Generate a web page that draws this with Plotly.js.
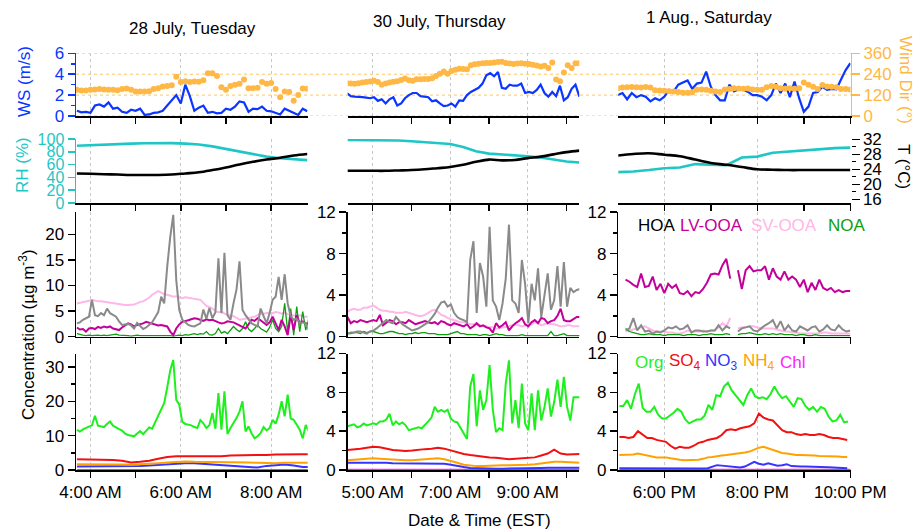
<!DOCTYPE html>
<html>
<head>
<meta charset="utf-8">
<script src="https://cdn.plot.ly/plotly-3.0.1.min.js"></script>
<style>html,body{margin:0;padding:0;background:#fff}#chart{width:914px;height:529px}</style>
</head>
<body>
<div id="chart"></div>
<script>
// ---- 28 July (Tuesday) ----
const c1Ws = [0.5,0.35,0.4,0.3,1.0,1.1,0.9,1.3,0.7,0.8,0.4,0.3,0.6,0.5,0.7,0.1,0.15,0.3,0.35,0.5,1.0,1.5,2.0,1.2,3.0,1.9,0.5,0.8,1.0,0.3,0.4,0.25,0.3,0.7,0.6,0.9,1.4,1.3,0.4,0.7,0.65,0.9,0.5,0.45,0.3,0.15,0.7,0.5,0.35,0.1,0.7,0.45];
const c1Wd = [150,147,147,150,152,155,152,150,150,148,155,158,150,140,140,140,142,155,160,170,172,176,225,195,200,195,198,196,205,245,245,230,165,150,172,180,185,210,160,160,162,195,185,190,155,107,140,138,88,120,158,157];
const c1Rh = [89.5,90.5,91.5,92.3,92.8,93.3,93.8,93.5,92.8,91.5,88.5,84.5,80.0,76.0,72.5,70.0,68.3,67.0];
const c1T = [22.9,22.8,22.7,22.6,22.5,22.5,22.5,22.6,22.9,23.2,23.8,24.5,25.3,26.0,26.6,27.1,27.7,28.1];
const c1Hoa = [2.6,2.8,3.3,3.6,3.9,7.2,4.2,4.0,4.6,4.2,5.5,4.6,4.3,3.9,3.0,2.3,2.4,2.5,2.2,1.6,2.7,2.0,1.5,1.8,2.4,2.8,3.8,4.8,7.8,6.5,13.7,19.5,23.8,11.0,5.2,3.3,2.8,2.3,2.1,2.0,2.3,2.6,5.3,3.5,5.6,3.6,4.8,15.3,4.6,16.4,4.2,3.3,6.5,9.2,14.7,5.2,4.2,3.4,2.6,2.3,2.0,5.5,3.9,2.6,4.6,7.2,7.8,11.7,7.2,12.2,6.5,4.0,3.3,3.5,2.6,2.8,2.6,1.3];
const c1Lv = [1.8,1.4,1.5,1.0,1.6,1.7,1.5,1.9,1.7,2.0,1.8,2.0,1.6,1.4,1.3,1.8,2.2,2.6,2.4,2.0,2.3,2.4,2.6,2.9,2.7,2.5,2.4,2.2,2.3,2.1,2.0,1.0,0.3,1.6,2.4,2.9,3.0,3.2,3.4,3.6,3.5,3.3,3.1,3.4,3.2,3.3,3.0,2.8,2.6,2.7,3.0,2.9,2.8,2.5,2.2,1.8,1.6,2.4,3.3,3.1,3.6,3.2,2.7,2.3,2.8,3.9,2.6,1.3,3.3,2.0,0.3,4.2,1.3,4.2,2.6,3.0,2.6,2.6];
const c1Sv = [6.5,6.6,6.8,6.9,7.0,7.2,7.0,6.9,6.9,6.8,6.8,6.7,6.6,6.5,6.4,6.3,6.2,6.2,6.2,6.3,6.5,6.8,6.9,7.2,7.6,8.2,8.6,8.9,8.6,8.3,8.2,8.0,7.8,7.9,7.7,7.5,7.7,7.6,7.5,7.4,7.3,7.2,6.6,6.0,5.8,5.5,5.0,4.8,4.9,4.5,4.3,4.2,4.0,3.7,3.3,3.4,3.5,3.6,3.7,3.9,4.2,4.5,4.5,4.6,4.7,4.6,4.8,4.7,4.5,4.7,4.4,4.3,4.2,4.0,4.2,4.0,3.9,3.9];
const c1Noa = [0.6,0.4,0.3,0.2,0.3,0.2,0.3,0.3,0.2,0.3,0.2,0.3,0.4,0.5,0.3,0.3,0.2,0.2,0.1,0.2,0.3,0.2,0.2,0.3,0.2,0.3,0.2,0.3,0.2,0.3,0.2,0.2,0.1,0.2,0.3,0.2,0.4,0.3,0.5,0.6,0.4,0.6,0.5,1.0,0.4,0.3,0.6,1.6,0.7,1.0,0.6,1.2,2.0,1.4,1.0,1.6,2.9,1.5,1.0,1.6,2.3,1.6,1.3,0.9,1.8,3.3,1.6,1.0,2.0,6.5,1.0,5.5,0.3,5.9,1.0,4.9,1.3,3.6];
const c1Org = [11.7,11.2,11.8,12.3,12.6,13.0,15.8,12.9,12.6,12.5,13.4,14.1,12.9,12.3,11.9,11.5,10.6,10.2,10.0,9.8,10.6,11.3,10.4,11.5,12.4,12.0,14.0,15.6,17.5,19.5,24.0,29.0,32.0,20.4,19.0,14.0,13.4,13.3,13.0,12.5,12.2,14.5,13.6,12.2,13.0,16.6,12.0,22.4,11.7,22.9,10.5,12.2,13.5,15.1,17.0,20.0,11.2,12.7,10.7,9.2,9.8,10.7,12.5,11.5,12.2,14.6,13.5,16.1,20.0,15.6,21.9,15.0,14.6,13.0,11.7,9.2,13.1,11.2];
const c1So4 = [3.1,3.1,3.1,3.0,2.9,2.7,2.2,2.4,2.7,3.3,3.8,4.0,4.0,4.0,3.9,3.8,4.0,4.2,4.2,4.3,4.4,4.4,4.5,4.6,4.7,4.6,4.6];
const c1Nh4 = [1.7,1.7,1.8,1.8,1.7,1.6,1.5,1.6,1.8,2.0,2.2,2.4,2.5,2.4,2.4,2.3,2.3,2.2,2.2,2.2,2.1,2.0,2.0,2.1,2.2,2.1,2.1];
const c1No3 = [1.0,1.0,1.0,1.0,1.1,1.0,1.1,1.2,1.3,1.5,1.7,1.9,2.0,2.0,1.8,1.7,1.6,1.4,1.1,1.0,0.7,1.2,1.5,1.6,1.3,0.9,0.9];
const c1Chl = [0.1,0.1,0.1,0.1,0.1,0.12,0.1,0.1,0.1,0.1,0.1,0.1];

// ---- 30 July (Thursday) ----
const c2Ws = [2.2,1.9,1.85,1.85,1.8,1.75,1.7,1.8,1.45,1.6,1.2,1.6,1.8,1.0,1.2,1.7,2.0,2.2,2.2,1.9,1.85,1.8,1.4,1.5,1.2,0.95,1.0,1.2,0.9,1.5,1.45,2.0,2.3,2.5,2.7,3.1,3.9,4.1,3.8,4.2,2.7,2.6,3.0,2.9,2.9,3.1,2.2,2.3,2.2,2.5,3.0,2.2,1.85,2.3,1.9,2.9,1.5,1.8,2.6,3.0,1.85];
const c2Wd = [188,186,185,188,192,195,198,203,195,180,186,192,197,200,207,215,205,203,211,211,212,213,217,230,242,255,242,258,265,272,270,268,292,297,300,303,304,305,307,310,312,305,302,299,301,303,300,299,294,290,284,288,276,307,210,200,250,292,275,303,303];
const c2Rh = [98.4,98.4,98.4,98.3,97.6,96.4,95.3,93.8,92.2,87.5,80.8,77.2,76.0,74.4,73.0,71.2,68.0,64.9,63.2];
const c2T = [23.6,23.6,23.6,23.6,23.7,23.8,24.0,24.3,24.6,25.2,26.0,26.6,26.4,26.5,27.0,27.4,28.0,28.6,29.0];
const c2Hoa = [0.3,0.4,0.4,0.5,0.5,0.4,0.3,0.5,0.6,0.8,1.1,1.4,1.6,1.4,1.3,1.9,1.5,1.2,1.0,0.8,0.6,0.7,0.8,1.0,1.2,1.4,1.8,2.2,2.8,3.3,3.4,2.9,3.1,2.3,1.9,1.7,1.6,1.4,7.4,9.2,2.3,7.1,5.8,2.9,10.6,3.5,2.9,1.6,3.2,5.6,10.8,3.5,3.2,2.3,7.4,5.1,1.3,5.1,3.5,6.6,1.9,4.2,6.1,2.6,3.5,6.8,2.9,7.2,2.9,4.7,4.3,4.5,4.6];
const c2Lv = [1.9,1.3,1.5,1.4,1.6,1.5,1.4,1.5,1.6,1.5,2.1,1.1,1.4,1.6,1.5,1.2,1.4,1.4,1.3,1.6,1.4,1.2,1.3,1.4,1.5,1.4,1.3,1.4,1.2,1.5,1.4,1.2,1.1,1.3,1.2,1.1,1.0,1.2,0.8,1.0,1.3,1.0,1.1,0.9,0.8,0.4,1.3,0.9,1.1,1.4,0.6,1.0,1.3,1.5,1.8,1.2,1.0,1.4,1.6,1.3,1.8,1.7,1.3,1.5,1.6,2.0,2.7,1.6,1.5,1.5,1.7,1.9,1.9];
const c2Sv = [2.4,2.6,2.7,2.6,2.6,2.8,2.8,2.9,3.0,2.8,2.6,2.5,2.5,2.4,2.4,2.3,2.3,2.3,2.4,2.3,2.2,2.1,2.0,2.0,2.1,2.3,2.5,2.6,2.4,2.1,2.0,1.8,1.7,1.6,1.5,1.4,1.4,1.3,1.2,1.2,1.1,1.1,1.0,1.0,0.9,0.9,0.8,0.8,0.9,0.9,1.0,1.1,1.2,1.1,1.0,1.1,1.2,1.2,1.4,1.3,1.1,1.2,1.3,1.2,1.2,1.1,1.0,1.0,1.1,1.1,1.0,1.0,1.0];
const c2Noa = [0.3,0.3,0.4,0.4,0.3,0.5,0.4,0.5,0.5,0.4,0.3,0.3,0.4,0.5,0.5,0.4,0.3,0.3,0.2,0.3,0.3,0.4,0.3,0.4,0.4,0.3,0.3,0.3,0.2,0.2,0.2,0.2,0.3,0.4,0.5,0.3,0.3,0.2,0.2,0.2,0.2,0.1,0.2,0.2,0.1,0.2,0.3,0.2,0.2,0.1,0.1,0.1,0.1,0.1,0.2,0.1,0.1,0.1,0.1,0.1,0.1,0.1,0.1,0.5,0.1,0.1,0.2,0.3,0.1,0.1,0.1,0.1,0.1];
const c2Org = [4.5,4.6,4.7,4.4,4.5,4.8,4.6,4.7,4.8,4.7,5.0,5.0,5.2,5.8,4.6,5.0,4.7,4.9,4.6,4.1,4.2,4.3,4.4,4.3,4.6,5.0,5.4,6.5,6.0,6.2,6.0,6.2,5.3,5.0,4.9,4.3,3.8,3.2,8.6,9.9,4.5,8.2,6.2,7.2,10.8,6.2,3.9,4.3,4.1,8.9,11.3,4.8,7.2,4.3,8.9,4.8,4.1,7.9,4.1,8.2,5.1,6.5,8.4,5.5,7.0,9.3,6.5,9.6,6.5,5.1,7.5,7.5,7.5];
const c2So4 = [2.05,2.1,2.2,2.3,2.4,2.35,2.2,2.05,2.0,1.95,2.0,2.1,2.15,2.2,2.3,2.2,2.0,1.8,1.65,1.55,1.45,1.4,1.3,1.25,1.15,1.1,1.15,1.2,1.2,1.3,1.5,1.7,2.1,1.7,1.6,1.65,1.65];
const c2Nh4 = [1.0,1.05,1.1,1.15,1.2,1.15,1.1,1.1,1.05,1.0,1.0,1.05,1.1,1.15,1.2,1.1,0.95,0.75,0.55,0.45,0.4,0.4,0.45,0.45,0.5,0.5,0.5,0.5,0.55,0.6,0.7,0.8,0.85,0.85,0.8,0.75,0.75];
const c2No3 = [0.75,0.75,0.8,0.8,0.75,0.75,0.75,0.7,0.7,0.7,0.7,0.7,0.7,0.72,0.72,0.65,0.55,0.4,0.3,0.2,0.17,0.15,0.15,0.14,0.14,0.14,0.15,0.15,0.16,0.17,0.2,0.22,0.24,0.24,0.24,0.22,0.22];
const c2Chl = [0.05,0.05,0.06,0.05,0.05,0.05,0.04,0.05,0.05,0.05,0.05,0.05,0.05];

// ---- 1 Aug. (Saturday) ----
const c3Ws = [2.0,2.2,1.6,2.2,1.8,2.0,1.85,1.4,1.7,1.5,1.85,2.5,2.35,3.0,3.2,3.4,2.6,3.1,3.2,4.25,2.8,2.0,1.5,1.5,3.0,2.35,2.55,2.5,2.3,2.0,2.0,1.85,1.5,2.0,3.1,2.2,3.1,1.8,3.3,1.7,0.4,0.9,2.2,2.3,2.8,2.5,2.6,2.55,3.5,4.4,5.05];
const c3Wd = [160,163,165,166,165,164,166,163,148,146,145,142,140,138,134,134,136,150,152,150,145,140,138,152,155,160,158,156,158,152,150,150,165,172,168,160,158,160,157,160,192,180,168,155,178,170,168,165,155,155,152];
const c3Rh = [48.2,49.2,51.5,54.4,55.5,60.8,60.0,59.0,71.0,72.5,78.5,80.2,82.0,84.5,85.8,86.5];
const c3T = [27.7,28.1,28.3,27.9,27.5,26.6,25.7,25.2,24.6,24.0,23.9,23.8,23.8,23.8,23.8,23.8];
const c3Hoa = [0.6,0.8,1.8,0.6,1.1,0.5,0.6,0.3,0.5,0.4,0.6,0.9,0.8,1.0,0.7,0.8,1.1,0.4,0.6,0.6,0.5,0.5,0.6,0.6,1.1,0.6,1.0,0.8,null,0.5,0.8,0.9,1.0,0.6,0.5,0.8,1.1,1.3,1.6,0.8,1.5,0.6,1.1,0.6,0.5,1.0,0.8,0.6,0.9,1.0,0.5,0.7,1.1,0.7,0.6,1.1,0.7,0.5,0.6];
const c3Lv = [5.5,5.3,5.0,4.8,6.1,4.8,4.9,5.8,4.5,5.1,4.2,5.1,4.7,5.0,4.2,4.1,4.4,3.9,4.3,4.2,4.6,5.2,6.0,6.1,6.0,6.9,7.5,5.6,null,6.4,4.6,6.4,6.8,6.3,6.4,6.4,6.8,5.5,6.6,5.8,5.5,6.3,5.5,5.8,5.5,4.8,5.5,4.3,5.2,4.5,5.5,4.7,4.5,4.7,4.3,4.5,4.3,4.4,4.4];
const c3Sv = [0.5,0.6,0.7,0.8,0.9,1.0,0.8,0.6,0.5,0.5,0.5,0.4,0.4,0.3,0.3,0.4,0.6,0.5,0.5,0.5,0.6,0.5,0.6,0.6,0.9,1.3,1.0,1.8,null,0.8,0.9,0.9,1.0,1.0,0.9,0.8,0.8,0.8,0.8,0.7,0.6,0.5,0.5,0.4,0.4,0.3,0.3,0.3,0.3,0.3,0.3,0.4,0.4,0.3,0.3,0.3,0.3,0.3,0.3];
const c3Noa = [0.8,0.5,0.4,0.3,0.2,0.2,0.3,0.2,0.2,0.2,0.1,0.2,0.2,0.2,0.2,0.1,0.2,0.2,0.2,0.1,0.2,0.2,0.3,0.2,0.2,0.2,0.3,0.2,null,0.2,0.3,0.3,0.4,0.3,0.2,0.2,0.3,0.2,0.3,0.2,0.3,0.2,0.2,0.2,0.1,0.2,0.2,0.1,0.1,0.2,0.1,0.1,0.1,0.1,0.1,0.1,0.1,0.1,0.1];
const c3Org = [6.6,6.6,7.2,6.3,7.8,8.9,6.4,6.0,6.0,6.5,5.7,5.3,5.3,5.6,5.9,6.3,6.0,5.2,4.8,5.0,5.2,5.2,5.6,6.7,6.2,7.7,7.6,8.6,9.0,8.2,7.7,7.3,6.7,7.7,8.4,7.6,7.4,7.5,7.3,7.8,8.6,7.9,7.4,7.6,7.0,6.5,7.4,7.3,6.6,6.2,6.5,6.0,6.5,6.3,5.5,5.0,5.1,5.7,4.9,5.0];
const c3So4 = [3.4,3.4,3.3,3.4,4.0,3.6,3.3,3.3,3.1,3.0,2.9,2.5,2.2,2.4,2.3,2.3,2.5,2.8,2.9,3.1,3.2,3.3,3.6,4.1,4.2,4.1,4.3,4.4,4.5,4.8,5.8,5.4,5.2,5.1,4.6,4.1,3.9,3.9,3.7,3.6,3.7,3.6,3.6,3.7,3.6,3.4,3.3,3.3,3.2,3.1];
const c3Nh4 = [1.55,1.55,1.6,1.6,1.7,1.6,1.45,1.35,1.3,1.3,1.3,1.2,1.1,1.05,1.0,1.0,1.0,1.05,1.15,1.3,1.35,1.45,1.5,1.55,1.6,1.65,1.7,1.8,1.9,2.1,2.3,2.4,2.25,2.1,1.9,1.75,1.7,1.6,1.55,1.55,1.55,1.55,1.5,1.45,1.45,1.45,1.45,1.4,1.35,1.35];
const c3No3 = [0.17,0.17,0.16,0.15,0.15,0.15,0.14,0.13,0.12,0.12,0.12,0.11,0.1,0.1,0.1,0.1,0.12,0.14,0.16,0.18,0.35,0.5,0.45,0.4,0.35,0.3,0.25,0.35,0.6,0.85,0.65,0.55,0.7,0.6,0.45,0.5,0.6,0.4,0.35,0.35,0.35,0.35,0.35,0.3,0.3,0.28,0.27,0.25,0.2,0.17];
const c3Chl = [0.05,0.06,0.05,0.05,0.04,0.05,0.06,0.05,0.05,0.05,0.05];

// Sampling schedule for each record: [date, start HH, start MM, step in minutes]
const sched = {
  c1: {met: ['2015-07-28',3,42,6], thermo: ['2015-07-28',3,42,18], pmf: ['2015-07-28',3,42,4], org: ['2015-07-28',3,42,4], inorg: ['2015-07-28',3,42,12], chl: ['2015-07-28',3,42,30]},
  c2: {met: ['2015-07-30',4,20,6], thermo: ['2015-07-30',4,20,20], pmf: ['2015-07-30',4,21,5], org: ['2015-07-30',4,21,5], inorg: ['2015-07-30',4,21,10], chl: ['2015-07-30',4,21,30]},
  c3: {met: ['2015-08-01',17,0,6], thermo: ['2015-08-01',17,0,20], pmf: ['2015-08-01',17,10,5], org: ['2015-08-01',17,2,5], inorg: ['2015-08-01',17,2,6], chl: ['2015-08-01',17,2,30]}
};

function times(s, n) {
  const [day, hh, mm, step] = s;
  const t0 = Date.parse(day + 'T' + String(hh).padStart(2,'0') + ':' + String(mm).padStart(2,'0') + ':00Z');
  return Array.from({length: n}, (_, k) => t0 + k * step * 60000);
}

const columns = [
  {s: sched.c1, ws: c1Ws, wd: c1Wd, rh: c1Rh, t: c1T, hoa: c1Hoa, lv: c1Lv, sv: c1Sv, noa: c1Noa, org: c1Org, so4: c1So4, nh4: c1Nh4, no3: c1No3, chl: c1Chl},
  {s: sched.c2, ws: c2Ws, wd: c2Wd, rh: c2Rh, t: c2T, hoa: c2Hoa, lv: c2Lv, sv: c2Sv, noa: c2Noa, org: c2Org, so4: c2So4, nh4: c2Nh4, no3: c2No3, chl: c2Chl},
  {s: sched.c3, ws: c3Ws, wd: c3Wd, rh: c3Rh, t: c3T, hoa: c3Hoa, lv: c3Lv, sv: c3Sv, noa: c3Noa, org: c3Org, so4: c3So4, nh4: c3Nh4, no3: c3No3, chl: c3Chl}
];

const COL = {
  ws: '#0a36ff', wd: '#ffb845', rh: '#1fc6c6', t: '#000000',
  hoa: '#8a8a8a', lv: '#c4009a', sv: '#ffb6e8', noa: '#0e9e0e',
  org: '#1ef01e', so4: '#f21010', no3: '#3535ff', nh4: '#ffa200', chl: '#ff22ff'
};
const FONT = 'Liberation Sans, Arial, sans-serif';

// page geometry (pixels)
const W = 914, H = 529;
const px = x => x / W;
const py = y => 1 - y / H;
const colX = [[76, 307.7], [347.7, 579.3], [618.3, 850.5]];
const rowY = [[53.3, 116], [139, 203], [211.7, 336.7], [353.5, 470]];

const xRanges = [
  {range: ['2015-07-28 03:40:48', '2015-07-28 08:48:36'], tick0: '2015-07-28 04:00'},
  {range: ['2015-07-30 04:21:18', '2015-07-30 10:19:54'], tick0: '2015-07-30 05:00'},
  {range: ['2015-08-01 17:00:36', '2015-08-01 22:00:15'], tick0: '2015-08-01 18:00'}
];

const yCfg = [
  [{range:[0,6], dtick:2, minor:1, color:COL.ws, fs:17}, {range:[0,6], hidden:true}, {range:[0,6], hidden:true}],
  [{range:[0,100], dtick:20, color:COL.rh, fs:16}, {range:[0,100], hidden:true}, {range:[0,100], hidden:true}],
  [{range:[0,24.41], dtick:5}, {range:[0,12.05], dtick:4, minor:2}, {range:[0,12.05], dtick:4, minor:2}],
  [{range:[0,33.9], dtick:10, minor:5}, {range:[0,12], dtick:4, minor:2}, {range:[0,12], dtick:4, minor:2}]
];

const layout = {
  width: W, height: H,
  margin: {l:0, r:0, t:0, b:0},
  paper_bgcolor: '#fff', plot_bgcolor: 'rgba(0,0,0,0)',
  showlegend: false,
  font: {family: FONT, size: 16, color: '#000'},
  annotations: [], shapes: []
};

const pid = (r, c) => r * 3 + c + 1;
const axId = (p, a) => a + (p === 1 ? '' : p);

for (let r = 0; r < 4; r++) {
  for (let c = 0; c < 3; c++) {
    const p = pid(r, c);
    layout['xaxis' + (p === 1 ? '' : p)] = {
      type: 'date', domain: [px(colX[c][0]), px(colX[c][1])], anchor: axId(p, 'y'),
      range: xRanges[c].range, tick0: xRanges[c].tick0, dtick: 7200000,
      tickformat: '%-I:%M %p', showticklabels: r === 3,
      tickfont: {size: 17, family: FONT, color: '#000'},
      ticks: 'outside', ticklen: 6, tickwidth: 1.5, tickcolor: '#000',
      minor: {dtick: 3600000, ticks: 'outside', ticklen: 6, tickwidth: 1.5, tickcolor: '#000', showgrid: false},
      showline: true, linecolor: '#000', linewidth: 1.5,
      showgrid: true, gridcolor: '#c8c8c8', griddash: 'dot', gridwidth: 1,
      zeroline: false, fixedrange: true
    };
    const yc = yCfg[r][c];
    const ya = {
      domain: [py(rowY[r][1]), py(rowY[r][0])], anchor: axId(p, 'x'),
      range: yc.range, showgrid: false, zeroline: false, fixedrange: true
    };
    if (yc.hidden) {
      ya.visible = false;
    } else {
      const col = yc.color || '#000';
      Object.assign(ya, {
        dtick: yc.dtick, tick0: 0, ticks: 'outside', ticklen: 7, tickwidth: 1.5, tickcolor: col,
        showline: true, linecolor: col, linewidth: 1.5,
        tickfont: {size: yc.fs || 17, family: FONT, color: col}
      });
      if (yc.minor) ya.minor = {dtick: yc.minor, tick0: 0, ticks: 'outside', ticklen: 4, tickwidth: 1.5, tickcolor: col};
    }
    layout['yaxis' + (p === 1 ? '' : p)] = ya;
  }
}

// wind direction axes (over row 1) and temperature axes (over row 2)
[13, 14, 15].forEach((n, c) => {
  const base = axId(pid(0, c), 'y');
  const a = {overlaying: base, range: [0, 360], showgrid: false, zeroline: false, fixedrange: true};
  if (c < 2) a.visible = false;
  else Object.assign(a, {
    side: 'right', anchor: axId(pid(0, c), 'x'), tickvals: [0, 120, 240, 360],
    ticks: 'outside', ticklen: 8, tickwidth: 1.5, tickcolor: COL.wd,
    showline: true, linecolor: COL.wd, linewidth: 1.5,
    tickfont: {size: 17, family: FONT, color: COL.wd}
  });
  layout['yaxis' + n] = a;
});
[16, 17, 18].forEach((n, c) => {
  const base = axId(pid(1, c), 'y');
  const a = {overlaying: base, range: [15, 32.1], showgrid: false, zeroline: false, fixedrange: true};
  if (c < 2) a.visible = false;
  else Object.assign(a, {
    side: 'right', anchor: axId(pid(1, c), 'x'), tick0: 16, dtick: 4,
    ticks: 'outside', ticklen: 8, tickwidth: 1.5, tickcolor: '#000', showline: false,
    minor: {dtick: 2, tick0: 16, ticks: 'outside', ticklen: 4, tickwidth: 1, tickcolor: '#000'},
    tickfont: {size: 17, family: FONT, color: '#000'}
  });
  layout['yaxis' + n] = a;
});

// dotted wind-direction guide lines across all three days
[0, 120, 240, 360].forEach(v => layout.shapes.push({
  type: 'line', xref: 'paper', yref: 'y15', x0: px(76), x1: px(851), y0: v, y1: v,
  line: {color: '#ffc45e', width: 1, dash: 'dot'}, layer: 'below'
}));

const traces = [];
function addLine(x, y, p, yAxis, color, width) {
  traces.push({type: 'scatter', mode: 'lines', x, y, xaxis: axId(p, 'x'), yaxis: yAxis || axId(p, 'y'),
    line: {color, width}, connectgaps: false, hoverinfo: 'skip'});
}

columns.forEach((d, c) => {
  const s = d.s;
  // row 1: wind speed and direction
  addLine(times(s.met, d.ws.length), d.ws, pid(0, c), null, COL.ws, 2.2);
  traces.push({type: 'scatter', mode: 'markers', x: times(s.met, d.wd.length), y: d.wd,
    xaxis: axId(pid(0, c), 'x'), yaxis: 'y' + (13 + c), marker: {color: COL.wd, size: 6}, hoverinfo: 'skip'});
  // row 2: RH and temperature
  addLine(times(s.thermo, d.rh.length), d.rh, pid(1, c), null, COL.rh, 2.6);
  traces.push({type: 'scatter', mode: 'lines', x: times(s.thermo, d.t.length), y: d.t,
    xaxis: axId(pid(1, c), 'x'), yaxis: 'y' + (16 + c), line: {color: COL.t, width: 2.6, shape: 'spline'}, hoverinfo: 'skip'});
  // row 3: PMF factors
  addLine(times(s.pmf, d.sv.length), d.sv, pid(2, c), null, COL.sv, 2);
  addLine(times(s.pmf, d.noa.length), d.noa, pid(2, c), null, COL.noa, 1.3);
  addLine(times(s.pmf, d.lv.length), d.lv, pid(2, c), null, COL.lv, 2);
  addLine(times(s.pmf, d.hoa.length), d.hoa, pid(2, c), null, COL.hoa, 2);
  // row 4: bulk species
  addLine(times(s.chl, d.chl.length), d.chl, pid(3, c), null, COL.chl, 1.5);
  addLine(times(s.inorg, d.no3.length), d.no3, pid(3, c), null, COL.no3, 2);
  addLine(times(s.inorg, d.nh4.length), d.nh4, pid(3, c), null, COL.nh4, 2);
  addLine(times(s.inorg, d.so4.length), d.so4, pid(3, c), null, COL.so4, 2);
  addLine(times(s.org, d.org.length), d.org, pid(3, c), null, COL.org, 2);
});

function note(text, x, y, opt) {
  layout.annotations.push(Object.assign({
    text, x: px(x), y: py(y), xref: 'paper', yref: 'paper', showarrow: false,
    xanchor: 'center', yanchor: 'middle', font: {size: 17, family: FONT, color: '#000'}
  }, opt || {}));
}

// day headings
note('28 July, Tuesday', 192, 29);
note('30 July, Thursday', 439, 22);
note('1 Aug., Saturday', 709, 18);

// axis titles
note('WS (m/s)', 24, 82, {textangle: -90, font: {size: 17, family: FONT, color: COL.ws}});
note('RH (%)', 22, 165, {textangle: -90, font: {size: 17, family: FONT, color: COL.rh}});
note('Concentration (µg m<sup>-3</sup>)', 27, 335, {textangle: -90});
note('Wind Dir (°)', 906, 80, {textangle: 90, font: {size: 17, family: FONT, color: COL.wd}});
note('T (°C)', 904, 166, {textangle: 90});
note('Date & Time (EST)', 479, 520);

// factor labels
[['HOA', '#000', 636], ['LV-OOA', COL.lv, 678], ['SV-OOA', COL.sv, 749], ['NOA', COL.noa, 826]].forEach(([t, col, x]) =>
  note(t, x, 225, {xanchor: 'left', font: {size: 17, family: FONT, color: col}}));
// species labels
[['Org', COL.org, 633], ['SO<sub>4</sub>', COL.so4, 667], ['NO<sub>3</sub>', COL.no3, 703], ['NH<sub>4</sub>', COL.nh4, 741], ['Chl', COL.chl, 778]].forEach(([t, col, x]) =>
  note(t, x, 362, {xanchor: 'left', font: {size: 17, family: FONT, color: col}}));

Plotly.newPlot('chart', traces, layout, {displayModeBar: false, staticPlot: true});
</script>
</body>
</html>
